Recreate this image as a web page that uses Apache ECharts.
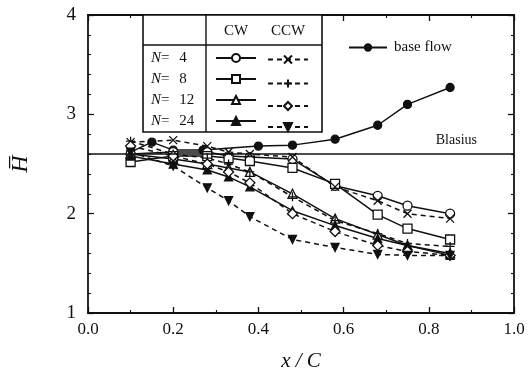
<!DOCTYPE html>
<html>
<head>
<meta charset="utf-8">
<script src="https://cdn.jsdelivr.net/npm/echarts@6/dist/echarts.min.js"></script>
<style>
  html, body { margin: 0; padding: 0; background: #fff; }
  #chart { width: 532px; height: 385px; }
</style>
</head>
<body>
<div id="chart"></div>
<script>
// estaciones x/C de las mediciones con rotor
const xStations = [0.1, 0.2, 0.28, 0.33, 0.38, 0.48, 0.58, 0.68, 0.75, 0.85];
const xBase = [0.1, 0.15, 0.2, 0.27, 0.4, 0.48, 0.58, 0.68, 0.75, 0.85];

const hBase = [2.62, 2.72, 2.64, 2.64, 2.68, 2.69, 2.75, 2.89, 3.10, 3.27];
const hN4cw = [2.60, 2.62, 2.62, 2.58, 2.57, 2.55, 2.28, 2.18, 2.08, 2.00];
const hN4ccw = [2.72, 2.74, 2.68, 2.62, 2.60, 2.57, 2.27, 2.13, 2.00, 1.95];
const hN8cw = [2.52, 2.58, 2.58, 2.56, 2.53, 2.46, 2.30, 1.99, 1.85, 1.74];
const hN8ccw = [2.73, 2.60, 2.56, 2.50, 2.42, 2.17, 1.93, 1.80, 1.70, 1.67];
const hN12cw = [2.60, 2.55, 2.50, 2.46, 2.42, 2.20, 1.95, 1.79, 1.68, 1.60];
const hN12ccw = [2.68, 2.58, 2.50, 2.42, 2.31, 2.00, 1.82, 1.68, 1.62, 1.58];
const hN24cw = [2.58, 2.50, 2.44, 2.37, 2.27, 2.03, 1.88, 1.75, 1.68, 1.58];
const hN24ccw = [2.62, 2.48, 2.26, 2.13, 1.97, 1.74, 1.66, 1.59, 1.58, 1.58];

const blasius = 2.6;
const nLabels = ["4", "8", "12", "24"];
const xTicks = [0, 0.2, 0.4, 0.6, 0.8, 1.0];

const INK = "#111";
const SERIF = "'Liberation Serif', 'DejaVu Serif', serif";
const CROSS = "path://M0,0L10,10M0,10L10,0";
const PLUS = "path://M5,0L5,10M0,5L10,5";

const pairs = (xs, ys) => xs.map((x, i) => [x, ys[i]]);

// serie genérica: sólida (CW) o discontinua (CCW)
function serie(name, ys, symbol, opts) {
  const o = opts || {};
  return {
    name,
    type: "line",
    data: pairs(o.xs || xStations, ys),
    symbol,
    symbolSize: o.size || 9,
    symbolRotate: o.rotate || 0,
    showAllSymbol: true,
    lineStyle: { color: INK, width: 1.5, type: o.dashed ? [5, 4] : "solid" },
    itemStyle: {
      color: o.filled ? INK : (o.stroke ? "none" : "#fff"),
      borderColor: INK,
      borderWidth: 1.3,
    },
    z: 3,
  };
}

const series = [
  serie("base flow", hBase, "circle", { xs: xBase, filled: true, size: 8 }),
  serie("N4 CW", hN4cw, "circle"),
  serie("N8 CW", hN8cw, "rect"),
  serie("N12 CW", hN12cw, "triangle"),
  serie("N24 CW", hN24cw, "triangle", { filled: true, size: 8 }),
  serie("N4 CCW", hN4ccw, CROSS, { dashed: true, stroke: true, size: 8 }),
  serie("N8 CCW", hN8ccw, PLUS, { dashed: true, stroke: true, size: 9 }),
  serie("N12 CCW", hN12ccw, "diamond", { dashed: true, size: 10 }),
  serie("N24 CCW", hN24ccw, "triangle", { dashed: true, filled: true, rotate: 180, size: 8 }),
];

// línea de Blasius
series[0].markLine = {
  silent: true,
  symbol: "none",
  lineStyle: { color: INK, width: 1.5, type: "solid" },
  label: {
    show: true,
    position: "insideEndTop",
    formatter: "Blasius",
    color: INK,
    fontFamily: SERIF,
    fontSize: 14,
    offset: [-32, -2],
  },
  data: [{ yAxis: blasius }],
};

const axisBase = {
  axisLine: { show: true, onZero: false, lineStyle: { color: INK, width: 1.8 } },
  axisTick: { show: true, inside: true, length: 6, lineStyle: { color: INK, width: 1.3 } },
  minorTick: { show: true, length: 3, lineStyle: { color: INK, width: 1.1 } },
  splitLine: { show: false },
};

const legendCommon = {
  orient: "vertical",
  itemWidth: 40,
  itemHeight: 10,
  itemGap: 11,
  padding: 0,
  selectedMode: false,
  formatter: () => "",
  textStyle: { fontSize: 1 },
};

// tabla de la leyenda (marco + rótulos)
const T = { x0: 143, x1: 322, y0: 15, y1: 132, xDiv: 206, yDiv: 45 };
const rowsY = [58, 79, 100, 121];
const graphic = [
  { type: "rect", shape: { x: T.x0, y: T.y0, width: T.x1 - T.x0, height: T.y1 - T.y0 },
    style: { fill: "#fff", stroke: INK, lineWidth: 1.6 }, z: 5 },
  { type: "line", shape: { x1: T.xDiv, y1: T.y0, x2: T.xDiv, y2: T.y1 },
    style: { stroke: INK, lineWidth: 1.4 }, z: 6 },
  { type: "line", shape: { x1: T.x0, y1: T.yDiv, x2: T.x1, y2: T.yDiv },
    style: { stroke: INK, lineWidth: 1.4 }, z: 6 },
  { type: "text", x: 236, y: 31, z: 6,
    style: { text: "CW", fill: INK, font: "15px " + SERIF, align: "center", verticalAlign: "middle" } },
  { type: "text", x: 288, y: 31, z: 6,
    style: { text: "CCW", fill: INK, font: "15px " + SERIF, align: "center", verticalAlign: "middle" } },
  ...nLabels.map((n, i) => ({
    type: "text", x: 151, y: rowsY[i], z: 6,
    style: {
      text: "{i|N}= {n|" + n + "}",
      verticalAlign: "middle",
      rich: {
        i: { fontFamily: SERIF, fontStyle: "italic", fontSize: 15, fill: INK },
        n: { fontFamily: SERIF, fontSize: 15, fill: INK, padding: [0, 0, 0, 6] },
      },
      fill: INK, font: "15px " + SERIF,
    },
  })),
];

const option = {
  animation: false,
  backgroundColor: "#fff",
  grid: { left: 88, right: 18, top: 15, bottom: 72 },
  textStyle: { fontFamily: SERIF },
  xAxis: [
    {
      type: "value", min: 0, max: 1, interval: 0.2,
      ...axisBase,
      minorTick: { ...axisBase.minorTick, splitNumber: 2 },
      axisLabel: { color: INK, fontFamily: SERIF, fontSize: 17, margin: 8,
        formatter: (v) => (xTicks.some((t) => Math.abs(t - v) < 1e-9) ? v.toFixed(1) : "") },
      name: "x / C", nameLocation: "middle", nameGap: 38,
      nameTextStyle: { color: INK, fontFamily: SERIF, fontStyle: "italic", fontSize: 21 },
    },
    {
      type: "value", min: 0, max: 1, interval: 0.2, position: "top",
      ...axisBase,
      minorTick: { ...axisBase.minorTick, splitNumber: 2 },
      axisLabel: { show: false },
    },
  ],
  yAxis: [
    {
      type: "value", min: 1, max: 4, interval: 1,
      ...axisBase,
      minorTick: { ...axisBase.minorTick, splitNumber: 5 },
      axisLabel: { color: INK, fontFamily: SERIF, fontSize: 19, margin: 12 },
      name: "H\u0305", nameLocation: "middle", nameGap: 55, nameRotate: 90,
      nameTextStyle: { color: INK, fontFamily: SERIF, fontStyle: "italic", fontSize: 24 },
    },
    {
      type: "value", min: 1, max: 4, interval: 1, position: "right",
      ...axisBase,
      minorTick: { ...axisBase.minorTick, splitNumber: 5 },
      axisLabel: { show: false },
    },
  ],
  legend: [
    { ...legendCommon, left: 215, top: rowsY[0] - 5, data: ["N4 CW", "N8 CW", "N12 CW", "N24 CW"], z: 7 },
    { ...legendCommon, left: 267, top: rowsY[0] - 5, data: ["N4 CCW", "N8 CCW", "N12 CCW", "N24 CCW"], z: 7 },
    {
      ...legendCommon, left: 348, top: 40, itemWidth: 38, itemHeight: 8, data: ["base flow"],
      formatter: "{name}",
      textStyle: { color: INK, fontFamily: SERIF, fontSize: 15, padding: [0, 0, 0, 2] },
    },
  ],
  graphic,
  series,
};

const chart = echarts.init(document.getElementById("chart"), null, { renderer: "canvas" });
chart.setOption(option);
</script>
</body>
</html>
